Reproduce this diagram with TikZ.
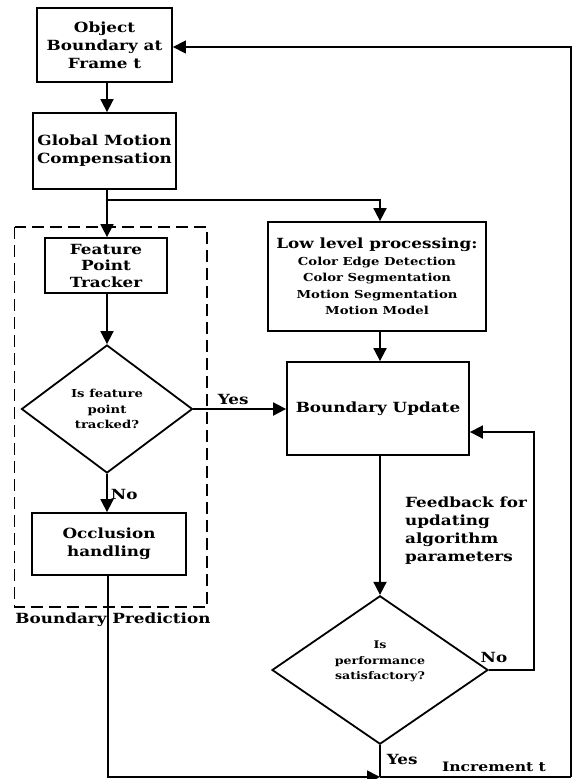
\documentclass[tikz,border=0pt]{standalone}
\usepackage{fontspec}
\setmainfont[FakeStretch=1.2]{DejaVu Serif}
\usetikzlibrary{arrows.meta,shapes.geometric}
\tikzset{
  box/.style={draw, line width=1.8pt, align=center, font=\fontsize{14}{18}\selectfont\bfseries, inner sep=1pt},
  dec/.style={draw, diamond, line width=1.8pt, align=center, font=\fontsize{10.5}{15.5}\selectfont\bfseries, inner sep=0pt},
  lbl/.style={font=\fontsize{14}{18}\selectfont\bfseries, inner sep=0pt},
  conn/.style={line width=1.8pt, -{Triangle[length=13pt,width=13pt]}},
  plain/.style={line width=1.8pt}
}
\begin{document}
\begin{tikzpicture}[x=1pt,y=-1pt]
\useasboundingbox (0,0) rectangle (572,779);
% nodes
\node[box, minimum width=135pt, minimum height=74pt] (obj) at (104.5,45) {Object\\Boundary at\\Frame t};
\node[box, minimum width=143pt, minimum height=76pt] (gmc) at (104.5,151) {Global Motion\\Compensation};
\node[box, minimum width=122pt, minimum height=55pt, font=\fontsize{14}{16.5}\selectfont\bfseries] (fpt) at (106,265.5) {Feature\\Point\\Tracker};
\node[dec, minimum width=171pt, minimum height=128pt, font=\fontsize{11}{15.5}\selectfont\bfseries] (d1) at (107,409) {Is feature\\point\\tracked?};
\node[box, minimum width=154pt, minimum height=62pt] (occ) at (109,544) {Occlusion\\handling};
\node[box, minimum width=218pt, minimum height=109pt, font=\fontsize{11}{16.5}\selectfont\bfseries] (low) at (377,276.5) {{\fontsize{14}{17}\selectfont Low level processing:}\\Color Edge Detection\\Color Segmentation\\Motion Segmentation\\Motion Model};
\node[box, minimum width=182pt, minimum height=93pt] (bu) at (378,408.5) {Boundary Update};
\node[dec, minimum width=216pt, minimum height=141pt] (d2) at (380,670) {Is\\performance\\satisfactory?\\[4pt]};
\draw[dash pattern=on 12pt off 6pt, line width=1.4pt] (14.5,227) rectangle (207,607);
\node[lbl] (bp) at (113,620) {Boundary Prediction};
\node[lbl, align=left, anchor=north west] (fb) at (405,497) {Feedback for\\updating\\algorithm\\parameters};
% junctions
\coordinate (br) at (107,200);
\coordinate (brr) at (380,200);
\coordinate (bl) at (108,777);
\coordinate (bm) at (380,777);
\coordinate (rb) at (571,777);
\coordinate (rt) at (571,47);
\coordinate (fr) at (534,670);
\coordinate (fu) at (534,432);
% connectors
\draw[conn] (obj.south -| br) -- (gmc.north -| br);
\draw[plain] (gmc.south -| br) -- (br);
\draw[conn] (br) -- (fpt.north -| br);
\draw[conn] (br) -- (brr) -- (low.north -| brr);
\draw[conn] (fpt.south -| d1) -- (d1);
\draw[conn] (d1) -- node[lbl, right=3pt, pos=0.55] {No} (occ.north -| d1);
\draw[conn] (d1.east) -- node[lbl, above=3pt, pos=0.43] {Yes} (bu.west |- d1.east);
\draw[conn] (low.south -| brr) -- (bu.north -| brr);
\draw[conn] (bu.south -| d2) -- (d2);
\draw[conn] (d2.east) -- (fr) -- (fu) -- (bu.east |- fu);
\node[lbl] (no2) at (494,657) {No};
\draw[plain] (d2.south) -- node[lbl, right=6pt, pos=0.45] {Yes} (bm);
\draw[conn] (occ.south -| bl) -- (bl) -- (bm);
\draw[plain] (bm) -- (rb);
\node[lbl, font=\fontsize{13}{17}\selectfont\bfseries] (inc) at (494,767) {Increment t};
\draw[conn, line width=1.4pt] (rb) -- (rt) -- (obj.east |- rt);
\end{tikzpicture}
\end{document}
